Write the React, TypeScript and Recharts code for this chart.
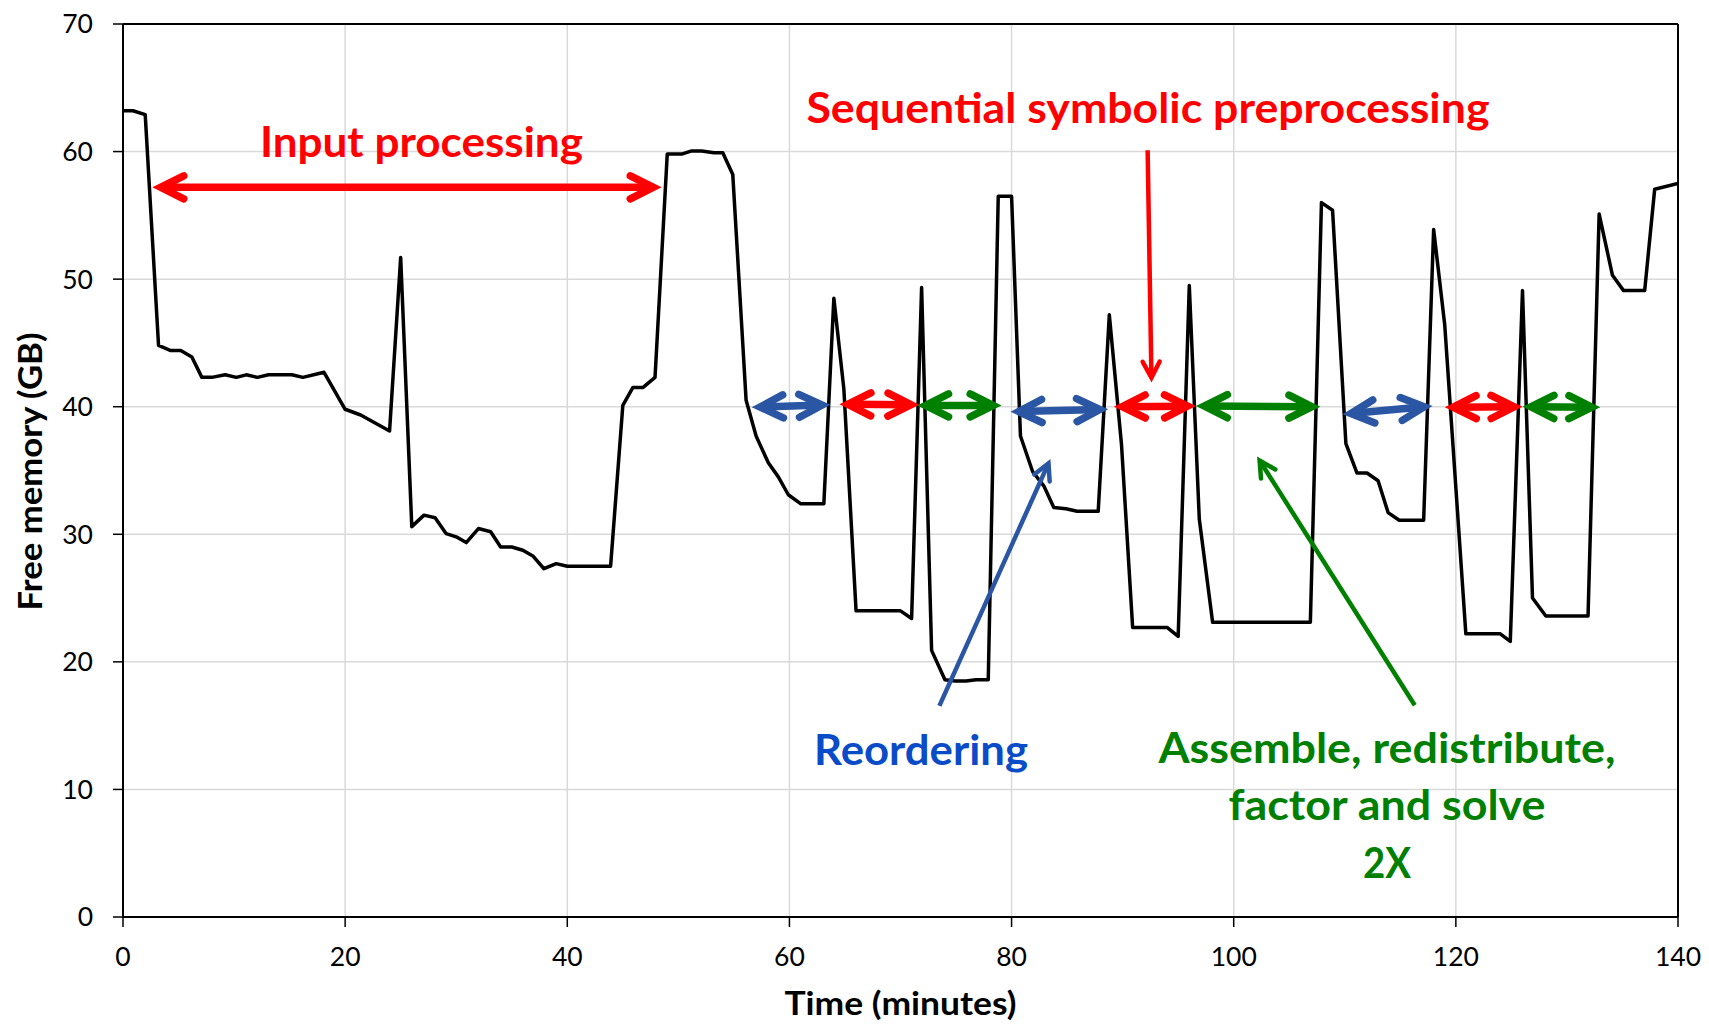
import React from 'react';
import { LineChart, Line, XAxis, YAxis, CartesianGrid, ReferenceLine, ReferenceDot } from 'recharts';

// ---- data ----
const times = [
  0, 0.9, 2.0, 3.2, 4.3, 5.2, 6.2, 7.1, 8.0, 9.2, 10.2, 11.1, 12.1, 13.1, 14.1, 15.2, 16.2, 18.1, 20.0, 21.4,
  24.0, 25.0, 26.0, 27.1, 28.1, 29.1, 30.0, 30.9, 32.0, 33.1, 34.0, 35.0, 36.0, 36.9, 37.9, 39.0, 40.0, 43.9,
  45.0, 45.9, 46.8, 47.9, 49.0, 50.3, 51.2, 52.1, 53.2, 54.0, 54.9, 56.1, 57.0, 58.1, 59.0, 59.9, 61.0, 63.1,
  64.0, 64.9, 66.0, 70.0, 71.0, 71.9, 72.8, 74.0, 74.9, 75.9, 76.8, 77.9, 78.8, 80.0, 80.8, 81.9, 82.9, 83.8,
  84.9, 85.9, 87.8, 88.8, 89.9, 90.9, 94.0, 95.0, 96.0, 96.9, 98.1, 106.9, 107.9, 108.9, 110.1, 111.1, 112.0,
  113.0, 113.9, 114.9, 117.1, 118.0, 119.0, 120.9, 124.0, 124.9, 126.0, 126.9, 128.1, 131.9, 132.9, 134.1,
  135.1, 137.0, 137.9, 140.0,
];
const freeMemory = [
  63.2, 63.2, 62.9, 44.8, 44.4, 44.4, 43.9, 42.3, 42.3, 42.5, 42.3, 42.5, 42.3, 42.5, 42.5, 42.5, 42.3, 42.7, 39.8, 39.35,
  38.1, 51.7, 30.6, 31.5, 31.3, 30.05, 29.8, 29.35, 30.45, 30.2, 29.0, 29.0, 28.75, 28.3, 27.3, 27.7, 27.5, 27.5,
  40.1, 41.5, 41.5, 42.3, 59.8, 59.8, 60.05, 60.05, 59.9, 59.9, 58.2, 40.5, 37.7, 35.6, 34.5, 33.1, 32.4, 32.4,
  48.5, 41.4, 24.0, 24.0, 23.4, 49.35, 20.9, 18.6, 18.5, 18.5, 18.6, 18.6, 56.5, 56.5, 37.7, 34.9, 33.8, 32.1,
  32.0, 31.8, 31.8, 47.2, 37.0, 22.7, 22.7, 22.0, 49.5, 31.2, 23.1, 23.1, 56.0, 55.4, 37.1, 34.8, 34.8,
  34.2, 31.7, 31.1, 31.1, 53.9, 46.4, 22.2, 22.2, 21.6, 49.1, 25.0, 23.6, 23.6, 55.1, 50.3,
  49.1, 49.1, 57.05, 57.5,
];
const xTicks = [0, 20, 40, 60, 80, 100, 120, 140];
const yTicks = [0, 10, 20, 30, 40, 50, 60, 70];

const data = times.map((t, i) => ({ t, v: freeMemory[i] }));

// ---- annotations ----
const RED = '#FF0000';
const BLUE = '#2A56A3';
const GREEN = '#008000';
const BLUE_TEXT = '#0A4BC8';

const phaseArrows = [
  { t1: 2.64, v1: 57.2, t2: 48.5, v2: 57.2, color: RED },
  { t1: 56.6, v1: 39.95, t2: 63.7, v2: 40.15, color: BLUE },
  { t1: 64.5, v1: 40.2, t2: 71.7, v2: 40.15, color: RED },
  { t1: 71.5, v1: 40.1, t2: 79.1, v2: 40.1, color: GREEN },
  { t1: 79.9, v1: 39.6, t2: 88.7, v2: 39.8, color: BLUE },
  { t1: 89.2, v1: 40.0, t2: 96.6, v2: 40.05, color: RED },
  { t1: 96.6, v1: 40.05, t2: 107.8, v2: 40.0, color: GREEN },
  { t1: 109.8, v1: 39.4, t2: 117.9, v2: 40.05, color: BLUE },
  { t1: 119.0, v1: 39.95, t2: 126.0, v2: 40.0, color: RED },
  { t1: 126.0, v1: 40.0, t2: 133.0, v2: 39.95, color: GREEN },
];

const pointerArrows = [
  { t1: 92.25, v1: 60.1, t2: 92.6, v2: 41.9, color: RED },
  { t1: 73.5, v1: 16.55, t2: 83.5, v2: 35.9, color: BLUE },
  { t1: 116.3, v1: 16.6, t2: 102.1, v2: 36.1, color: GREEN },
];

const labels = [
  { text: 'Input processing', t: 26.87, v: 59.58, color: RED, width: 323 },
  { text: 'Sequential symbolic preprocessing', t: 92.28, v: 62.24, color: RED, width: 683 },
  { text: 'Reordering', t: 71.85, v: 11.92, color: BLUE_TEXT, width: 214 },
  { text: 'Assemble, redistribute,', t: 113.8, v: 12.05, color: GREEN, width: 457 },
  { text: 'factor and solve', t: 113.8, v: 7.6, color: GREEN, width: 317 },
  { text: '2X', t: 113.8, v: 3.03, color: GREEN, width: 48 },
];

const FONT = 'Lato, "Open Sans", sans-serif';

function makeArrowShape(color: string, width: number, headLen: number, headHalf: number, both: boolean) {
  return (props: any) => {
    const { x1, y1, x2, y2 } = props;
    if ([x1, y1, x2, y2].some((n) => typeof n !== 'number' || isNaN(n))) return <g />;
    const dx = x2 - x1;
    const dy = y2 - y1;
    const len = Math.hypot(dx, dy) || 1;
    const ux = dx / len;
    const uy = dy / len;
    const nx = -uy;
    const ny = ux;
    const halfAngle = Math.atan2(headHalf, headLen);
    const tipInset = width / 2 / Math.sin(halfAngle);
    // geometric tips moved inward so the mitred visual tip lands on the endpoint
    const ex = x2 - ux * tipInset;
    const ey = y2 - uy * tipInset;
    const sx = both ? x1 + ux * tipInset : x1;
    const sy = both ? y1 + uy * tipInset : y1;
    const head = (tx: number, ty: number, bx: number, by: number) =>
      `M${tx + bx * headLen + nx * headHalf},${ty + by * headLen + ny * headHalf} L${tx},${ty} L${tx + bx * headLen - nx * headHalf},${ty + by * headLen - ny * headHalf}`;
    let d = head(ex, ey, -ux, -uy);
    if (both) d += ' ' + head(sx, sy, ux, uy);
    return (
      <g>
        <line x1={sx} y1={sy} x2={ex} y2={ey} stroke={color} strokeWidth={width} strokeLinecap="butt" />
        <path d={d} fill="none" stroke={color} strokeWidth={width} strokeLinecap="round" strokeLinejoin="miter" strokeMiterlimit={10} />
      </g>
    );
  };
}

function makeTextShape(text: string, color: string, textLength: number) {
  return (props: any) => (
    <text
      x={props.cx}
      y={props.cy}
      fill={color}
      fontSize={42}
      fontWeight={700}
      fontFamily={FONT}
      textAnchor="middle"
      textLength={textLength}
      lengthAdjust="spacingAndGlyphs"
    >
      {text}
    </text>
  );
}

const xTitle = (props: any) => {
  const vb = props.viewBox || { x: 115, y: 909, width: 1555, height: 100 };
  return (
    <text
      x={vb.x + vb.width / 2}
      y={vb.y + 98}
      textAnchor="middle"
      fontFamily={FONT}
      fontWeight={700}
      fontSize={32.5}
      fill="#000"
      textLength={232}
      lengthAdjust="spacingAndGlyphs"
    >
      Time (minutes)
    </text>
  );
};

const yTitle = (props: any) => {
  const vb = props.viewBox || { x: 0, y: 16, width: 115, height: 893 };
  const x = vb.x + 34;
  const y = vb.y + vb.height / 2 + 1;
  return (
    <text
      x={x}
      y={y}
      transform={`rotate(-90 ${x} ${y})`}
      textAnchor="middle"
      fontFamily={FONT}
      fontWeight={700}
      fontSize={32.5}
      fill="#000"
      textLength={278}
      lengthAdjust="spacingAndGlyphs"
    >
      Free memory (GB)
    </text>
  );
};

export default function App() {
  const tickStyle = { fill: '#000', fontSize: 26.5, fontFamily: FONT };
  return (
    <div style={{ fontFamily: FONT, width: 1700, height: 1020 }}>
      <LineChart width={1700} height={1020} data={data} margin={{ top: 16, right: 30, left: 0, bottom: 11 }}>
        <CartesianGrid stroke="#D9D9D9" strokeWidth={1.5} />
        <XAxis
          dataKey="t"
          type="number"
          domain={[0, 140]}
          ticks={xTicks}
          interval={0}
          height={100}
          tickSize={10}
          tickMargin={20}
          axisLine={{ stroke: '#000', strokeWidth: 2 }}
          tickLine={{ stroke: '#000', strokeWidth: 1.5 }}
          tick={tickStyle}
          label={xTitle}
          allowDataOverflow
        />
        <YAxis
          type="number"
          domain={[0, 70]}
          ticks={yTicks}
          interval={0}
          width={115}
          tickSize={10}
          tickMargin={20}
          axisLine={{ stroke: '#000', strokeWidth: 2 }}
          tickLine={{ stroke: '#000', strokeWidth: 1.5 }}
          tick={tickStyle}
          label={yTitle}
          allowDataOverflow
        />
        <ReferenceLine y={70} stroke="#000" strokeWidth={2} />
        <ReferenceLine x={140} stroke="#000" strokeWidth={2} />
        <Line
          dataKey="v"
          type="linear"
          stroke="#000"
          strokeWidth={3.5}
          strokeLinejoin="round"
          dot={false}
          activeDot={false}
          isAnimationActive={false}
        />
        {phaseArrows.map((a, i) => (
          <ReferenceLine
            key={'pa' + i}
            segment={[{ x: a.t1, y: a.v1 }, { x: a.t2, y: a.v2 }]}
            shape={makeArrowShape(a.color, 7.5, 23, 11.5, true)}
          />
        ))}
        {pointerArrows.map((a, i) => (
          <ReferenceLine
            key={'pt' + i}
            segment={[{ x: a.t1, y: a.v1 }, { x: a.t2, y: a.v2 }]}
            shape={makeArrowShape(a.color, 4.5, 16, 8.5, false)}
          />
        ))}
        {labels.map((l, i) => (
          <ReferenceDot key={'lb' + i} x={l.t} y={l.v} r={1} shape={makeTextShape(l.text, l.color, l.width)} />
        ))}
      </LineChart>
    </div>
  );
}
